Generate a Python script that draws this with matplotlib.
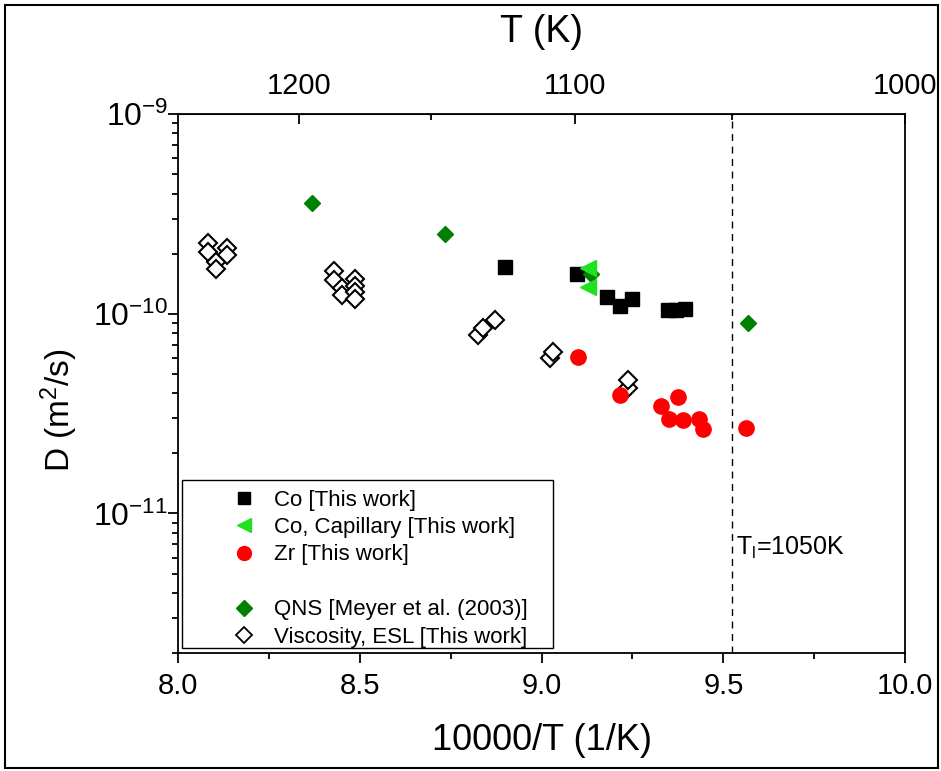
import matplotlib
matplotlib.use('Agg')
import matplotlib.pyplot as plt
import numpy as np
from matplotlib.lines import Line2D
from matplotlib.patches import Rectangle
from matplotlib.ticker import FixedLocator, LogLocator, NullFormatter

plt.rcParams['font.family'] = ['Liberation Sans', 'DejaVu Sans']
plt.rcParams['mathtext.fontset'] = 'custom'
plt.rcParams['mathtext.rm'] = 'Liberation Sans'
plt.rcParams['mathtext.it'] = 'Liberation Sans:italic'

# Co, ESL (this work)
co_x = [8.90, 9.098, 9.180, 9.216, 9.249, 9.348, 9.370, 9.395]
co_d = [1.71e-10, 1.58e-10, 1.21e-10, 1.09e-10, 1.19e-10, 1.04e-10, 1.04e-10, 1.06e-10]

# Co, capillary (this work)
cap_x = [9.128, 9.128]
cap_d = [1.70e-10, 1.36e-10]

# Zr (this work)
zr_x = [9.100, 9.216, 9.329, 9.376, 9.351, 9.388, 9.432, 9.443, 9.562]
zr_d = [6.05e-11, 3.90e-11, 3.45e-11, 3.81e-11, 2.96e-11, 2.94e-11, 2.97e-11, 2.66e-11, 2.69e-11]

# QNS, Meyer et al. (2003)
qns_x = [8.369, 8.735, 9.136, 9.568]
qns_d = [3.58e-10, 2.51e-10, 1.58e-10, 8.98e-11]

# viscosity, ESL (this work)
visc_x = [8.083, 8.083, 8.134, 8.134, 8.106, 8.106,
          8.429, 8.429, 8.450, 8.450, 8.487, 8.487, 8.487, 8.487,
          8.826, 8.840, 8.872,
          9.023, 9.032,
          9.239, 9.239]
visc_d = [2.27e-10, 2.04e-10, 2.13e-10, 1.97e-10, 1.82e-10, 1.67e-10,
          1.64e-10, 1.47e-10, 1.34e-10, 1.24e-10, 1.49e-10, 1.38e-10, 1.29e-10, 1.19e-10,
          7.82e-11, 8.45e-11, 9.30e-11,
          5.98e-11, 6.45e-11,
          4.23e-11, 4.66e-11]

T_liquidus = 1050
top_major = [1200, 1100, 1000]
top_minor = [1150, 1050]

fig = plt.figure(figsize=(9.41, 7.71), dpi=100)
ax = fig.add_axes([0.189, 0.153, 0.773, 0.699])

ax.plot(visc_x, visc_d, 'D', mfc='white', mec='black', mew=1.5, ms=9, ls='none')
ax.plot(zr_x, zr_d, 'o', color='#ff0000', ms=11, ls='none')
ax.plot(co_x, co_d, 's', color='black', ms=10, ls='none')
ax.plot(qns_x, qns_d, 'D', color='#008000', ms=8.5, ls='none')
ax.plot(cap_x, cap_d, '<', color='#20e020', ms=11, ls='none')

ax.axvline(10000 / T_liquidus, color='black', lw=1.0, ls=(0, (5, 4)))
ax.text(10000 / T_liquidus + 0.012, 6.7e-12, r'T$_\mathrm{l}$=1050K',
        fontsize=18, va='center', ha='left')

ax.set_yscale('log')
ax.set_xlim(8.0, 10.0)
ax.set_ylim(2e-12, 1e-9)
ax.set_xticks([8.0, 8.5, 9.0, 9.5, 10.0])
ax.set_xticklabels(['8.0', '8.5', '9.0', '9.5', '10.0'])
ax.xaxis.set_minor_locator(FixedLocator([8.25, 8.75, 9.25, 9.75]))
ax.yaxis.set_major_locator(LogLocator(base=10, numticks=10))
ax.yaxis.set_minor_locator(LogLocator(base=10, subs=np.arange(2, 10), numticks=20))
ax.yaxis.set_minor_formatter(NullFormatter())

ax.tick_params(axis='both', which='major', width=1.3, length=7, direction='out')
ax.tick_params(axis='both', which='minor', width=1.3, length=4, direction='out')
ax.tick_params(axis='x', which='major', labelsize=21, pad=7)
ax.tick_params(axis='y', which='major', labelsize=23, pad=0)
ax.tick_params(axis='x', which='both', top=False)
ax.tick_params(axis='y', which='both', right=False)
for sp in ax.spines.values():
    sp.set_linewidth(1.3)

ax.set_xlabel('10000/T (1/K)', fontsize=26, labelpad=16)
ax.set_ylabel('D (m$^2$/s)', fontsize=24)
ax.yaxis.set_label_coords(-0.135, 0.45)

top = ax.secondary_xaxis('top', functions=(lambda x: 10000 / x, lambda t: 10000 / t))
top.xaxis.set_major_locator(FixedLocator(top_major))
top.xaxis.set_minor_locator(FixedLocator(top_minor))
top.tick_params(axis='x', which='major', labelsize=21, width=1.3, length=7, direction='in', pad=10)
top.tick_params(axis='x', which='minor', width=1.3, length=4, direction='in')
top.set_xlabel('T (K)', fontsize=27, labelpad=22)

# legend with a separate frame
handles = [
    Line2D([], [], marker='s', color='black', ls='none', ms=9),
    Line2D([], [], marker='<', color='#20e020', ls='none', ms=10),
    Line2D([], [], marker='o', color='#ff0000', ls='none', ms=10),
    Line2D([], [], marker='None', ls='none'),
    Line2D([], [], marker='D', color='#008000', ls='none', ms=8),
    Line2D([], [], marker='D', mfc='white', mec='black', mew=1.3, ls='none', ms=8),
]
labels = ['Co [This work]', 'Co, Capillary [This work]', 'Zr [This work]', ' ',
          'QNS [Meyer et al. (2003)]', 'Viscosity, ESL [This work]']
ax.legend(handles, labels, loc='upper left', bbox_to_anchor=(0.060, 0.324),
          frameon=False, borderpad=0, handlelength=1.0, handletextpad=0.85,
          labelspacing=0.29, prop={'size': 16})
ax.add_patch(Rectangle((0.0055, 0.009), 0.5105, 0.312, transform=ax.transAxes,
                       fill=False, ec='black', lw=1.0, zorder=5))

fig.patches.append(Rectangle((0.0053, 0.0039), 0.9915, 0.9896, transform=fig.transFigure,
                             fill=False, ec='black', lw=1.5))

fig.savefig('out.png', dpi=100)
